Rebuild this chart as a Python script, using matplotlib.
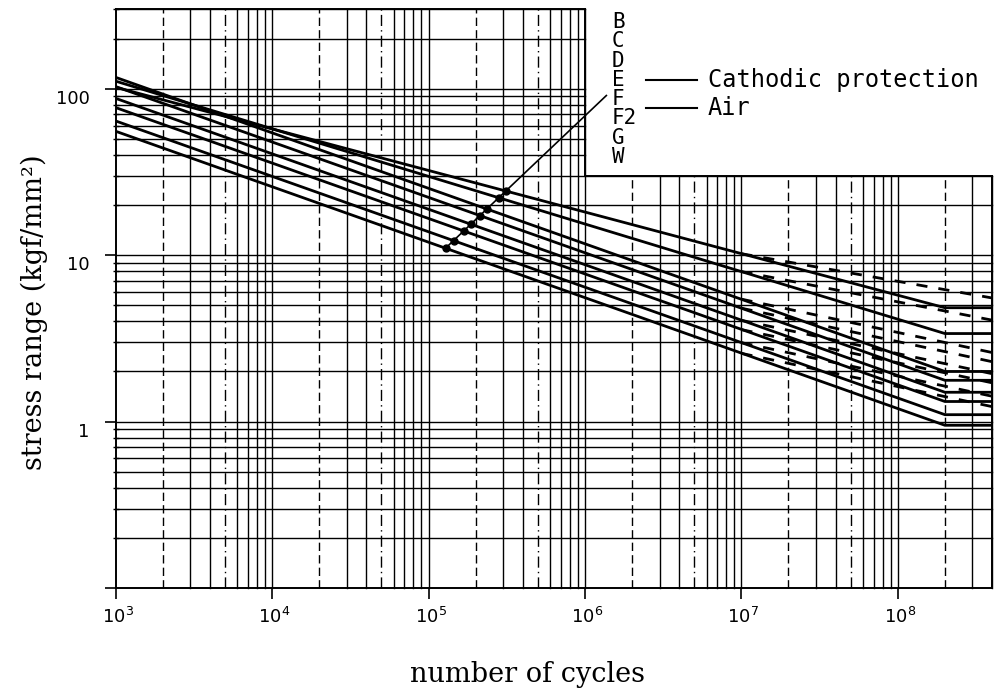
import numpy as np
import matplotlib
matplotlib.use("Agg")
import matplotlib.pyplot as plt
from matplotlib.lines import Line2D
from matplotlib.transforms import offset_copy
from matplotlib.ticker import LogLocator, NullFormatter, NullLocator

# ---------------- data ----------------
classes = ["B", "C", "D", "E", "F", "F2", "G", "W"]
# stress range (kgf/mm^2) of each class curve
n_start = 1e3          # left end of curves
n_cp_knee = 2e8        # cathodic-protection curves turn horizontal here
n_air_knee = 1e7       # air curves change slope here
n_end = 4e8            # right end of chart
s_start = [102.0, 111.0, 117.0, 103.0, 87.5, 77.0, 64.0, 55.5]
s_cp_knee = [4.83, 3.38, 2.00, 1.77, 1.50, 1.32, 1.10, 0.95]
s_air_knee = [10.2, 7.97, 5.44, 4.80, 4.06, 3.57, 2.98, 2.57]
s_air_end = [5.53, 4.07, 2.60, 2.29, 1.94, 1.71, 1.42, 1.23]

# leader line from the class labels down through the curves
leader_n = [1.27e5, 1.37e6]
leader_s = [10.9, 91.0]

y_tick_values = [100, 10, 1]
y_tick_labels = ["100", "10", "1"]
x_tick_values = [1e3, 1e4, 1e5, 1e6, 1e7, 1e8]
x_tick_labels = [r"$10^{3}$", r"$10^{4}$", r"$10^{5}$", r"$10^{6}$", r"$10^{7}$", r"$10^{8}$"]

legend_labels = ["Cathodic protection", "Air"]

# ---------------- figure ----------------
W, H = 1007, 692
fig = plt.figure(figsize=(W / 100, H / 100), dpi=100)
fig.patch.set_facecolor("white")

L, R, B_, T = 115.7, 992.0, 588.0, 9.3
ax = fig.add_axes([L / W, 1 - B_ / H, (R - L) / W, (B_ - T) / H])
ax.set_xscale("log")
ax.set_yscale("log")
ax.set_xlim(1e3, 4e8)
ax.set_ylim(0.1, 300)
for s in ["top", "right"]:
    ax.spines[s].set_visible(False)
for s in ["left", "bottom"]:
    ax.spines[s].set_linewidth(1.4)

ax.xaxis.set_major_locator(LogLocator(base=10, numticks=20))
ax.xaxis.set_minor_locator(NullLocator())
ax.yaxis.set_major_locator(LogLocator(base=10, numticks=20))
ax.yaxis.set_minor_locator(LogLocator(base=10, subs=np.arange(2, 10), numticks=20))
ax.tick_params(which="major", direction="out", length=8, width=1.2,
               labelleft=False, labelbottom=False)
ax.tick_params(which="minor", direction="inout", length=5, width=1.0)
ax.yaxis.set_minor_formatter(NullFormatter())

# ---------------- grid (log paper with stepped top) ----------------
grid_kw = dict(color="black", lw=1.0, zorder=1, clip_on=False)
for k in range(3, 9):
    for m in range(1, 10):
        v = m * 10.0 ** k
        if v <= 1e3 or v > 4e8:
            continue
        top = 300 if v <= 1e6 else 30
        if m == 2:
            ls = (0, (6, 3))
        elif m == 5:
            ls = (0, (8, 3, 1, 3))
        else:
            ls = "-"
        ax.plot([v, v], [0.1, top], ls=ls, **grid_kw)
for k in range(-1, 3):
    for m in range(1, 10):
        v = m * 10.0 ** k
        if v <= 0.1 or v > 300:
            continue
        right = 4e8 if v <= 30 else 1e6
        ax.plot([1e3, right], [v, v], ls="-", **grid_kw)
# outer boundary
ax.plot([4e8, 4e8], [0.1, 30], color="black", lw=1.4, zorder=2, clip_on=False)
ax.plot([1e6, 4e8], [30, 30], color="black", lw=1.4, zorder=2, clip_on=False)
ax.plot([1e3, 1e6], [300, 300], color="black", lw=1.4, zorder=2, clip_on=False)
ax.plot([1e6, 1e6], [30, 300], color="black", lw=1.4, zorder=2, clip_on=False)

# ---------------- curves ----------------
for i, c in enumerate(classes):
    ax.plot([n_start, n_cp_knee, n_end], [s_start[i], s_cp_knee[i], s_cp_knee[i]],
            color="black", lw=2.0, zorder=3, solid_capstyle="butt")
    ax.plot([n_air_knee, n_end], [s_air_knee[i], s_air_end[i]],
            color="black", lw=2.0, ls=(0, (4, 4)), zorder=3)

# leader line and dots where it meets the curves
ax.plot(leader_n, leader_s, color="black", lw=1.2, zorder=4, clip_on=False)
lx0, lx1 = np.log10(leader_n)
ly0, ly1 = np.log10(leader_s)
for i in range(len(classes)):
    cx0, cx1 = np.log10([n_start, n_cp_knee])
    cy0, cy1 = np.log10([s_start[i], s_cp_knee[i]])
    a1 = (ly1 - ly0) / (lx1 - lx0)
    a2 = (cy1 - cy0) / (cx1 - cx0)
    xi = (cy0 - a2 * cx0 - ly0 + a1 * lx0) / (a1 - a2)
    if lx0 - 0.02 <= xi <= lx1:
        yi = ly0 + a1 * (xi - lx0)
        ax.plot([10 ** xi], [10 ** yi], "o", color="black", ms=5, zorder=5)

# ---------------- tick labels ----------------
ytr = offset_copy(ax.transData, fig=fig, x=-26, y=-10, units="dots")
for v, lab in zip(y_tick_values, y_tick_labels):
    ax.text(1e3, v, lab, transform=ytr, ha="right", va="center",
            fontsize=13, family="DejaVu Sans", clip_on=False)
xtr = offset_copy(ax.transData, fig=fig, x=2, y=-29, units="dots")
for v, lab in zip(x_tick_values, x_tick_labels):
    ax.text(v, 0.1, lab, transform=xtr, ha="center", va="center",
            fontsize=13, clip_on=False)

# ---------------- class labels and legend ----------------
label_y0, label_dy = 22, 19.3
for i, c in enumerate(classes):
    fig.text(612 / W, 1 - (label_y0 + i * label_dy) / H, c, ha="left", va="center",
             fontsize=15, family="DejaVu Sans Mono")

legend_y = [80, 108]
for y, lab in zip(legend_y, legend_labels):
    fig.add_artist(Line2D([646 / W, 697 / W], [1 - y / H, 1 - y / H],
                          color="black", lw=1.5))
    fig.text(708 / W, 1 - y / H, lab, ha="left", va="center",
             fontsize=17, family="DejaVu Sans Mono")

# ---------------- axis titles ----------------
fig.text(527 / W, 1 - 682 / H, "number of cycles", ha="center", va="baseline",
         fontsize=19.5, family="DejaVu Serif")
fig.text(34 / W, 1 - 312 / H, "stress range (kgf/mm²)", ha="center", va="center",
         rotation=90, fontsize=19.5, family="DejaVu Serif")

fig.savefig("out.png", dpi=100, facecolor="white")
